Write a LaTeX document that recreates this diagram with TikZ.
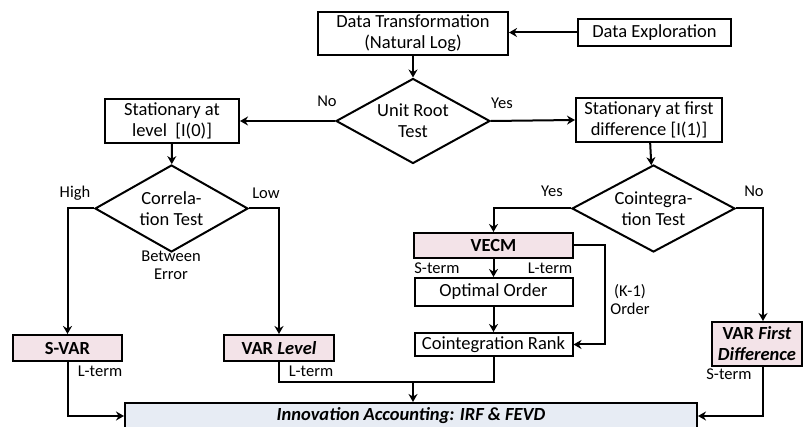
\documentclass[tikz,border=0pt]{standalone}
\usepackage{fontspec}
\setmainfont{Carlito}
\usetikzlibrary{arrows.meta,shapes.geometric}

\definecolor{modelpink}{HTML}{F3E3E8}
\definecolor{resultblue}{HTML}{E7ECF4}

\begin{document}
\begin{tikzpicture}[x = 1pt, y = -1pt,
  every node/.style = {font = \fontsize{18.5}{21}\selectfont},
  box/.style = {draw, line width = 2pt, inner sep = 0pt, align = center},
  model/.style = {box, fill = modelpink, font = \fontsize{18.5}{21}\selectfont\bfseries},
  decision/.style = {diamond, draw, line width = 2pt, inner sep = 0pt, shape aspect = 1.8, align = center},
  tag/.style = {font = \fontsize{16.5}{18}\selectfont, inner sep = 0pt},
  flow/.style = {-{Stealth[length = 8pt, width = 9pt]}, line width = 2pt},
  link/.style = {line width = 2pt}]
\useasboundingbox (0,0) rectangle (803,427);

\node[box, minimum width = 190, minimum height = 43] (trans) at (413,33.5) {Data Transformation\\(Natural Log)};
\node[box, minimum width = 153, minimum height = 27] (explore) at (654.5,32.5) {Data Exploration};
\node[decision, minimum width = 154, minimum height = 85] (unitroot) at (413,121) {Unit Root\\Test};
\node[box, minimum width = 134, minimum height = 44] (level) at (172,121) {Stationary at\\level~~[I(0)]};
\node[box, minimum width = 146, minimum height = 44] (firstdiff) at (649,120) {Stationary at first\\difference [I(1)]};
\node[decision, minimum width = 153, minimum height = 87] (corr) at (171.5,208.5) {Correla-\\tion Test};
\node[decision, minimum width = 163, minimum height = 87] (coint) at (653.5,208.5) {Cointegra-\\tion Test};
\node[model, minimum width = 109, minimum height = 26] (svar) at (67.5,348) {S-VAR};
\node[model, minimum width = 110, minimum height = 26] (varlevel) at (279,348) {VAR \textit{Level}};
\node[model, minimum width = 159, minimum height = 25] (vecm) at (493.5,245.5) {VECM};
\node[box, minimum width = 158, minimum height = 28] (optorder) at (493.5,292) {Optimal Order};
\node[box, minimum width = 158, minimum height = 23] (rank) at (493.5,344.5) {Cointegration Rank};
\node[model, minimum width = 90, minimum height = 44] (vardiff) at (757,344) {VAR \textit{First}\\\textit{Difference}};
\node[box, fill = resultblue, minimum width = 572, minimum height = 26,
      font = \fontsize{18.5}{21}\selectfont\bfseries\itshape] (innov) at (411,416) {Innovation Accounting: IRF \& FEVD};
\coordinate (merge) at (413,382);

\node[tag] (no1) at (327,101) {No};
\node[tag] (yes1) at (502,103) {Yes};
\node[tag] (high) at (75,193) {High};
\node[tag] (low) at (266,193) {Low};
\node[tag, align = center] (between) at (171,265) {Between\\Error};
\node[tag] (yes2) at (552,191) {Yes};
\node[tag] (no2) at (754,191) {No};
\node[tag] (sterm1) at (437,268) {S-term};
\node[tag] (lterm1) at (550,268) {L-term};
\node[tag, align = center] (korder) at (630,300) {(K-1)\\Order};
\node[tag] (lterm2) at (100,371) {L-term};
\node[tag] (lterm3) at (311,371) {L-term};
\node[tag] (sterm2) at (729,374) {S-term};

\draw[flow] (explore.west) -- (explore.west -| trans.east);
\draw[flow] (trans) -- (unitroot);
\draw[flow] (unitroot.west) -- (level.east);
\draw[flow] (unitroot.east) -- (firstdiff.west);
\draw[flow] (level) -- (corr);
\draw[flow] (firstdiff) -- (coint);
\draw[flow] (corr.west) -| (svar.north);
\draw[flow] (corr.east) -| (varlevel.north);
\draw[flow] (coint.west) -| (vecm.north);
\draw[flow] (coint.east) -| ([xshift = 6]vardiff.north);
\draw[flow] (vecm) -- (optorder);
\draw[flow] (optorder) -- (rank);
\draw[flow] (vecm.east) -- ++(31,0) |- (rank.east);
\draw[flow] (svar.south) |- (innov.west);
\draw[flow] ([xshift = 6]vardiff.south) |- (innov.east);
\draw[link] (varlevel.south) |- (merge);
\draw[link] (rank.south) |- (merge);
\draw[flow] (merge) -- (merge |- innov.north);
\end{tikzpicture}
\end{document}
